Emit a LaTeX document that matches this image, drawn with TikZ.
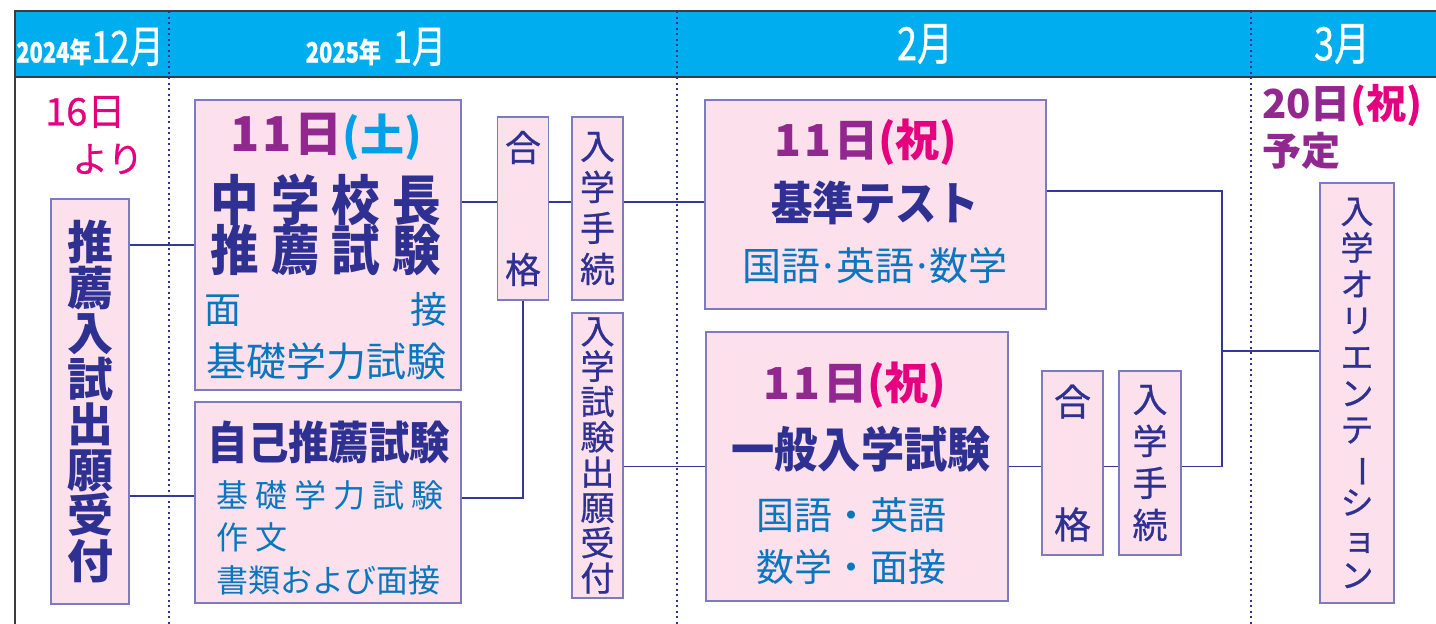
\documentclass[tikz,border=0pt]{standalone}
\usepackage{fontspec}
\setmainfont{Noto Sans CJK JP}
\newfontfamily\medfont[FakeBold=0.7]{Noto Sans CJK JP}
\newfontfamily\narrowfont[FakeStretch=0.78,FakeBold=0.8]{Noto Sans CJK JP}
\newfontfamily\titlefont[FakeStretch=0.9]{Noto Sans CJK JP}
\usetikzlibrary{positioning,calc}

\definecolor{skyband}{HTML}{00AEEF}
\definecolor{boxpink}{HTML}{FCE0EC}
\definecolor{boxline}{HTML}{7B7BC0}
\definecolor{linkblue}{HTML}{343896}
\definecolor{navy}{HTML}{2E3192}
\definecolor{seablue}{HTML}{0877BE}
\definecolor{grape}{HTML}{92278F}
\definecolor{rose}{HTML}{E4007F}
\definecolor{aqua}{HTML}{00A0E9}
\definecolor{framegray}{HTML}{3C3C3C}

\newcommand{\tatebar}{\rotatebox[origin=c]{-90}{ー}}

\begin{document}
\begin{tikzpicture}[x=1pt, y=-1pt]
	\tikzstyle{box}=[draw=boxline, fill=boxpink, line width=1.2pt, inner sep=0pt]
	\tikzstyle{tate}=[box, align=center, text=navy]
	\tikzstyle{link}=[draw=linkblue, line width=1.8pt]
	\tikzstyle{word}=[inner sep=0pt]
	\tikzstyle{month}=[word, text=white, font=\narrowfont]
	\tikzstyle{sep}=[draw=navy, line width=2pt, dash pattern=on 2pt off 3.5pt]

	\useasboundingbox (0,0) rectangle (1436,624);

	% header band and month separators
	\fill[skyband] (15,11) rectangle (1436,77);
	\draw[framegray, line width=1.5pt] (15,624) -- (15,11) -- (1436,11);
	\draw[framegray, line width=1.5pt] (15,77) -- (1436,77);
	\foreach \x in {169,677,1251}
		\draw[sep] (\x,11) -- (\x,624);

	\node[month] (dec) at (90,47) {{\bfseries\fontsize{28}{28}\selectfont 2024年}\fontsize{44}{44}\selectfont 12月};
	\node[month] (jan) at (376,47) {{\bfseries\fontsize{28}{28}\selectfont 2025年}\kern12pt\fontsize{44}{44}\selectfont 1月};
	\node[month] (feb) at (925,44) {\fontsize{46}{46}\selectfont 2月};
	\node[month] (mar) at (1342,44) {\fontsize{46}{46}\selectfont 3月};

	% December
	\node[word, text=rose, font=\medfont\fontsize{38}{38}\selectfont, anchor=west] (from16) at (45,112) {16日};
	\node[word, text=rose, font=\medfont\fontsize{36}{36}\selectfont, anchor=west] (yori) at (72,159) {より};
	\node[tate, minimum width=78pt, minimum height=405pt, font=\bfseries\fontsize{46}{45.5}\selectfont] (suisen) at (90,401.5) {推\\薦\\入\\試\\出\\願\\受\\付};

	% January
	\node[box, minimum width=266pt, minimum height=290pt] (chuboxA) at (328,245) {};
	\node[word, text=grape, font=\bfseries\fontsize{48}{48}\selectfont] (dateA) at (326,137) {1\kern3pt1\kern3pt日{\fontsize{44}{44}\selectfont\color{aqua}(土)}};
	\node[word, text=navy, font=\titlefont\bfseries\fontsize{54}{54}\selectfont] (chuA) at (326,200) {中\kern12pt学\kern12pt校\kern12pt長};
	\node[word, text=navy, font=\titlefont\bfseries\fontsize{54}{54}\selectfont] (suiA) at (326,250) {推\kern12pt薦\kern12pt試\kern12pt験};
	\node[word, text=seablue, font=\fontsize{37}{37}\selectfont] (menA) at (326,309) {\makebox[243pt]{面\hfill 接}};
	\node[word, text=seablue, font=\fontsize{40}{40}\selectfont] (kisoA) at (326,361) {基礎学力試験};

	\node[box, minimum width=266pt, minimum height=201pt] (jikoB) at (328,502.5) {};
	\node[word, text=navy, font=\titlefont\bfseries\fontsize{45}{45}\selectfont] (jikoT) at (329,442) {自己推薦試験};
	\node[word, text=seablue, font=\fontsize{32}{32}\selectfont, anchor=west] (kisoB) at (216,495) {基\kern7pt礎\kern7pt学\kern7pt力\kern7pt試\kern7pt験};
	\node[word, text=seablue, font=\fontsize{32}{32}\selectfont, anchor=west] (sakuB) at (216,537) {作\kern7pt文};
	\node[word, text=seablue, font=\fontsize{32}{32}\selectfont, anchor=west] (shoB) at (216,580) {書類および面接};

	\node[tate, minimum width=51pt, minimum height=183pt, font=\medfont\fontsize{36}{122}\selectfont] (pass1) at (523,208.5) {合\\格};
	\node[tate, minimum width=51pt, minimum height=183pt, font=\medfont\fontsize{35}{41}\selectfont] (proc1) at (597.5,208.5) {入\\学\\手\\続};
	\node[tate, minimum width=51pt, minimum height=285pt, font=\medfont\fontsize{34}{35.3}\selectfont] (apply) at (597.5,455.5) {入\\学\\試\\験\\出\\願\\受\\付};

	% February
	\node[box, minimum width=341pt, minimum height=209pt] (kijun) at (875.5,204.5) {};
	\node[word, text=grape, font=\bfseries\fontsize{44}{44}\selectfont] (dateK) at (866,142) {1\kern3pt1\kern3pt日{\color{rose}(祝)}};
	\node[word, text=navy, font=\titlefont\bfseries\fontsize{46}{46}\selectfont] (kijunT) at (875,203) {基準テスト};
	\node[word, text=seablue, font=\fontsize{39}{39}\selectfont] (kijunS) at (875,266) {国語\kern-3pt·\kern-3pt英語\kern-3pt·\kern-3pt数学};

	\node[box, minimum width=302pt, minimum height=269pt] (ippan) at (857,466.5) {};
	\node[word, text=grape, font=\bfseries\fontsize{44}{44}\selectfont] (dateI) at (855,385) {1\kern3pt1\kern3pt日{\color{rose}(祝)}};
	\node[word, text=navy, font=\titlefont\bfseries\fontsize{48}{48}\selectfont] (ippanT) at (861,449) {一般入学試験};
	\node[word, text=seablue, font=\fontsize{38}{38}\selectfont] (ippanS1) at (851,515) {国語・英語};
	\node[word, text=seablue, font=\fontsize{38}{38}\selectfont] (ippanS2) at (851,567) {数学・面接};

	\node[tate, minimum width=61pt, minimum height=184pt, font=\medfont\fontsize{37}{123}\selectfont] (pass2) at (1072.5,463) {合\\格};
	\node[tate, minimum width=62pt, minimum height=184pt, font=\medfont\fontsize{35}{42}\selectfont] (proc2) at (1150,463) {入\\学\\手\\続};

	% March
	\node[word, text=grape, font=\bfseries\fontsize{40}{40}\selectfont, anchor=west] (date20) at (1262,106) {20日{\color{rose}(祝)}};
	\node[word, text=grape, font=\bfseries\fontsize{39}{39}\selectfont, anchor=west] (yotei) at (1262,151) {予定};
	\node[tate, minimum width=74pt, minimum height=420pt, font=\medfont\fontsize{33}{36.4}\selectfont] (orient) at (1357,393) {入\\学\\オ\\リ\\エ\\ン\\テ\\\tatebar\\シ\\\kern5pt ョ\\ン};

	% connectors
	\coordinate (row1) at (0,202);
	\coordinate (merge) at (1222,351);
	\draw[link] (suisen.east |- chuboxA.west) -- (chuboxA.west);
	\draw[link] (suisen.east |- 0,496) -- (jikoB.west |- 0,496);
	\draw[link] (chuboxA.east |- row1) -- (pass1.west |- row1);
	\draw[link] (pass1.east |- row1) -- (proc1.west |- row1);
	\draw[link] (proc1.east |- row1) -- (kijun.west |- row1);
	\draw[link] (jikoB.east |- 0,498) -| (pass1.south);
	\draw[link] (apply.east |- ippan.west) -- (ippan.west);
	\draw[link] (ippan.east) -- (pass2.west |- ippan.east);
	\draw[link] (pass2.east |- ippan.east) -- (proc2.west |- ippan.east);
	\draw[link] (kijun.east |- 0,191) -| (merge) |- (proc2.east |- ippan.east);
	\draw[link] (merge) -- (orient.west |- merge);
\end{tikzpicture}
\end{document}
